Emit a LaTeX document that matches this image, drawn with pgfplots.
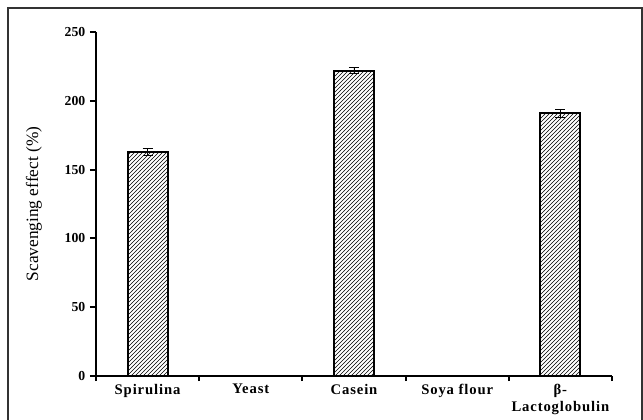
\documentclass[border=0pt]{standalone}
\usepackage{fontspec}
\setmainfont{Liberation Serif}
\usepackage{pgfplots}
\pgfplotsset{compat=1.18}
\usetikzlibrary{patterns}
\begin{document}
\begin{tikzpicture}[x=0.75pt,y=0.75pt]
\begin{axis}[
  name=ax, at={(0,0)}, anchor=south west,
  scale only axis, width=387pt, height=258pt,
  ybar, bar width=30pt,
  xmin=-0.5, xmax=4.5, ymin=0, ymax=250,
  axis x line=bottom, axis y line=left,
  axis line style={-, line width=1.5pt, black},
  ytick={0,50,100,150,200,250},
  xtick={0,1,2,3,4},
  xticklabels={Spirulina, Yeast, Casein, Soya flour, {β-\\Lactoglobulin}},
  minor xtick={-0.5,0.5,1.5,2.5,3.5,4.5},
  every major x tick/.style={draw=none},
  tick align=outside,
  major tick length=4.5pt, minor tick length=3.8pt,
  tick style={line width=1.5pt, black},
  /pgf/number format/assume math mode=true,
  yticklabel style={font=\bfseries\fontsize{10.3}{12}\selectfont},
  xticklabel style={font=\bfseries\fontsize{11}{12.5}\selectfont\addfontfeature{LetterSpace=6}, align=center, anchor=north, yshift=2pt},
  ylabel={Scavenging effect (\%)},
  ylabel style={font=\fontsize{13}{15}\selectfont, at={(axis description cs:-0.1202,0.5)}, anchor=center},
  clip=false,
]
\addplot[draw=black, line width=1.5pt, pattern=north east lines, pattern color=black,
  error bars/.cd, y dir=both, y explicit,
  error bar style={line width=0.7pt, black},
  error mark options={rotate=90, mark size=3.75pt, line width=0.7pt, black}]
  coordinates {(0,162.5) +- (0,2.5) (1,0) +- (0,0) (2,222) +- (0,2) (3,0) +- (0,0) (4,191) +- (0,3)};
\end{axis}
\draw[line width=1pt, black!80] (-88,-60) rectangle (546,368);
\pgfresetboundingbox
\useasboundingbox (-96,-43) rectangle (547,376);
\end{tikzpicture}
\end{document}
